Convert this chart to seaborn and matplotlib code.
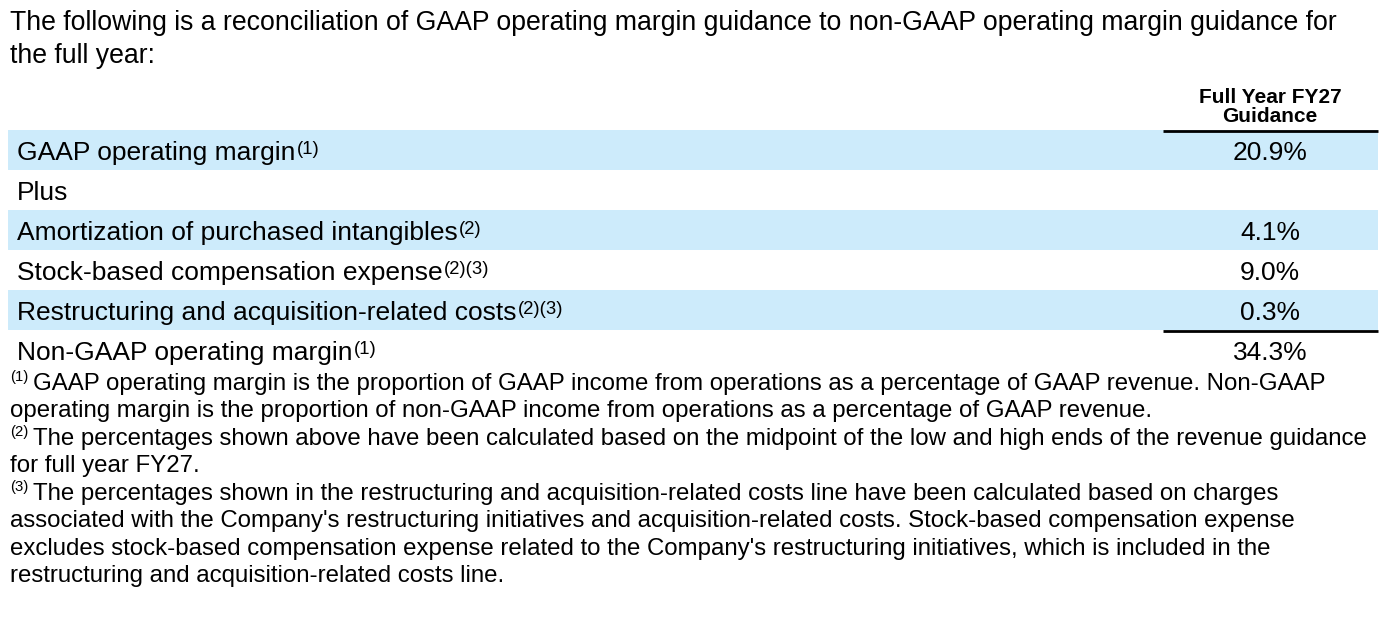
import matplotlib
matplotlib.use('Agg')
import matplotlib.pyplot as plt
import seaborn as sns

intro_lines = ['The following is a reconciliation of GAAP operating margin guidance to non-GAAP operating margin guidance for',
               'the full year:']
column_header = ['Full Year FY27', 'Guidance']
row_labels = ['GAAP operating margin', 'Plus', 'Amortization of purchased intangibles',
              'Stock-based compensation expense', 'Restructuring and acquisition-related costs',
              'Non-GAAP operating margin']
row_notes = ['(1)', '', '(2)', '(2)(3)', '(2)(3)', '(1)']
row_values = ['20.9%', '', '4.1%', '9.0%', '0.3%', '34.3%']
row_shaded = [True, False, True, False, True, False]
footnote_marks = ['(1)', '(2)', '(3)']
footnote_lines = [
    ['GAAP operating margin is the proportion of GAAP income from operations as a percentage of GAAP revenue. Non-GAAP',
     'operating margin is the proportion of non-GAAP income from operations as a percentage of GAAP revenue.'],
    ['The percentages shown above have been calculated based on the midpoint of the low and high ends of the revenue guidance',
     'for full year FY27.'],
    ['The percentages shown in the restructuring and acquisition-related costs line have been calculated based on charges',
     "associated with the Company's restructuring initiatives and acquisition-related costs. Stock-based compensation expense",
     "excludes stock-based compensation expense related to the Company's restructuring initiatives, which is included in the",
     'restructuring and acquisition-related costs line.'],
]

sns.set_theme(style='white')
plt.rcParams['font.family'] = ['Liberation Sans', 'DejaVu Sans']

BLUE = '#cdebfb'
fig = plt.figure(figsize=(13.92, 6.24), dpi=100)
ax = fig.add_axes([0, 0, 1, 1])
ax.set_xlim(0, 1392)
ax.set_ylim(624, 0)
ax.axis('off')
renderer = fig.canvas.get_renderer()


def px(size):
    return size * 100 / 72


def width(t):
    return t.get_window_extent(renderer).width


def label(x, y, s, size, sup='', sup_first=False, sup_scale=0.72, raise_=0.23, gap=0.22):
    sup_size = size * sup_scale
    if sup_first:
        t = ax.text(x, y - raise_ * px(size), sup, fontsize=sup_size, va='baseline', color='black')
        x = x + width(t) + gap * px(size)
        ax.text(x, y, s, fontsize=size, va='baseline', color='black')
    else:
        t = ax.text(x, y, s, fontsize=size, va='baseline', color='black')
        if sup:
            ax.text(x + width(t) + 1, y - raise_ * px(size), sup, fontsize=sup_size,
                    va='baseline', color='black')


# intro
for i, line in enumerate(intro_lines):
    ax.text(10, 30 + 33 * i, line, fontsize=19.15, va='baseline', color='black')

# column header
for i, line in enumerate(column_header):
    ax.text(1270, 103 + 19 * i, line, fontsize=15, weight='bold', ha='center', va='baseline', color='black')

# table rows
top = 130
row_h = 40
for i, (lab, note, val, shade) in enumerate(zip(row_labels, row_notes, row_values, row_shaded)):
    y0 = top + row_h * i
    if shade:
        ax.fill_between([8, 1378], y0, y0 + row_h, color=BLUE, lw=0)
    label(17, y0 + 30, lab, 19, note, sup_scale=0.7)
    if val:
        ax.text(1270, y0 + 30, val, fontsize=19, ha='center', va='baseline', color='black')

ax.plot([1163, 1378], [131, 131], color='black', lw=2, solid_capstyle='butt')
ax.plot([1163, 1378], [331, 331], color='black', lw=2, solid_capstyle='butt')

# footnotes
y = 390
for mark, lines in zip(footnote_marks, footnote_lines):
    for j, line in enumerate(lines):
        if j == 0:
            label(10, y, line, 17.25, mark, sup_first=True, sup_scale=0.62, raise_=0.36, gap=0.18)
        else:
            ax.text(10, y, line, fontsize=17.25, va='baseline', color='black')
        y += 27.43

plt.savefig('out.png', dpi=100)
